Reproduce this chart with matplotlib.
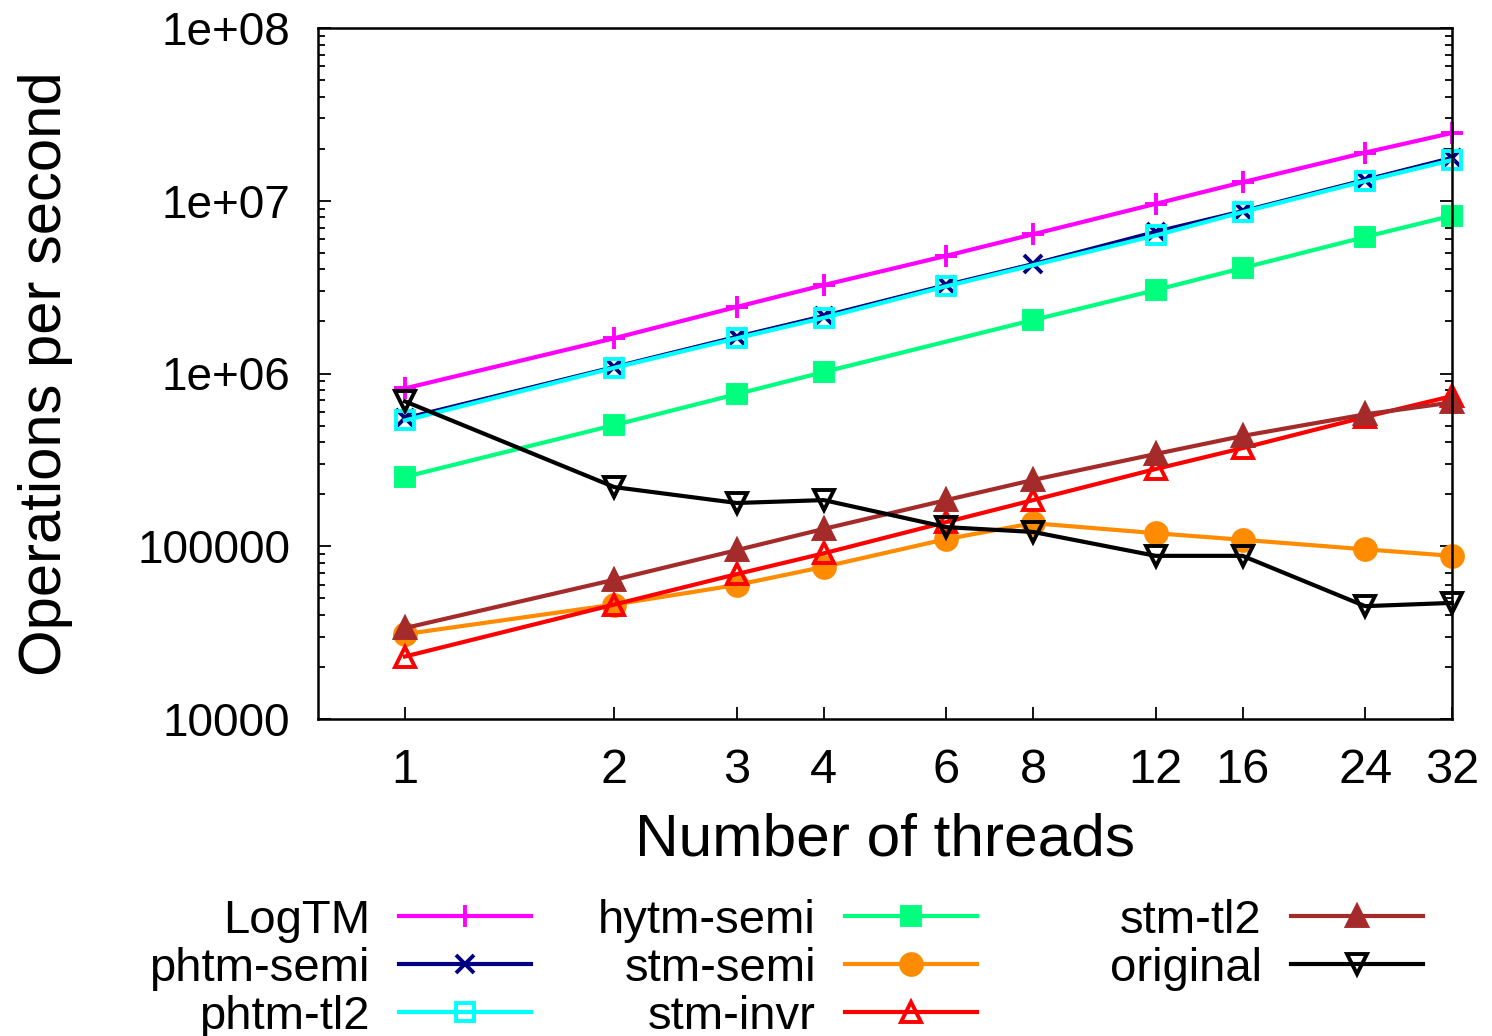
import matplotlib
matplotlib.use("Agg")
import matplotlib.pyplot as plt
import numpy as np

plt.rcParams['font.family'] = ['Liberation Sans', 'DejaVu Sans']

threads = [1, 2, 3, 4, 6, 8, 12, 16, 24, 32]

logtm = [8.2e5, 1.6e6, 2.43e6, 3.25e6, 4.8e6, 6.4e6, 9.6e6, 1.28e7, 1.9e7, 2.47e7]
phtm_semi = [5.5e5, 1.09e6, 1.63e6, 2.15e6, 3.25e6, 4.3e6, 6.6e6, 8.7e6, 1.32e7, 1.77e7]
phtm_tl2 = [5.35e5, 1.08e6, 1.6e6, 2.1e6, 3.2e6, np.nan, 6.3e6, 8.6e6, 1.3e7, 1.72e7]
hytm_semi = [2.52e5, 5.03e5, 7.6e5, 1.02e6, np.nan, 2.04e6, 3.04e6, 4.08e6, 6.17e6, 8.2e6]
stm_semi = [3.1e4, 4.6e4, 5.97e4, 7.6e4, 1.1e5, 1.36e5, 1.19e5, 1.09e5, 9.6e4, 8.8e4]
stm_invr = [2.3e4, 4.6e4, 6.9e4, 9.1e4, 1.38e5, 1.85e5, 2.8e5, 3.7e5, 5.6e5, 7.4e5]
stm_tl2 = [3.36e4, 6.4e4, 9.5e4, 1.26e5, 1.85e5, 2.42e5, 3.42e5, 4.35e5, 5.8e5, 6.8e5]
original = [6.9e5, 2.2e5, 1.78e5, 1.85e5, 1.29e5, 1.21e5, 8.8e4, 8.8e4, 4.5e4, 4.7e4]

series = [
    ("LogTM", logtm, "#ff00ff", "+", True),
    ("phtm-semi", phtm_semi, "#000080", "x", True),
    ("phtm-tl2", phtm_tl2, "#00ffff", "s", False),
    ("hytm-semi", hytm_semi, "#00ff7f", "s", True),
    ("stm-semi", stm_semi, "#ff8c00", "o", True),
    ("stm-invr", stm_invr, "#ff0000", "^", False),
    ("stm-tl2", stm_tl2, "#a52a2a", "^", True),
    ("original", original, "#000000", "v", False),
]

yticks = [1e4, 1e5, 1e6, 1e7, 1e8]
ytick_labels = ["10000", "100000", "1e+06", "1e+07", "1e+08"]

fig = plt.figure(figsize=(14.92, 10.36), dpi=100)
ax = fig.add_axes([318 / 1492, 1 - 719 / 1036, (1452 - 318) / 1492, (719 - 28) / 1036])

handles = []
for name, vals, col, mk, filled in series:
    x = np.array(threads, dtype=float)
    y = np.array(vals, dtype=float)
    ok = ~np.isnan(y)
    ms = {"+": 16, "x": 13, "s": 13, "o": 15, "^": 15, "v": 15}[mk]
    kw = dict(color=col, lw=3, marker=mk, ms=ms, mew=2.8, clip_on=False)
    if not filled and mk != "x":
        kw["markerfacecolor"] = "none"
    line, = ax.plot(x[ok], y[ok], label=name, **kw)
    handles.append(line)

ax.set_xscale("log")
ax.set_yscale("log")
ax.set_xlim(0.75, 32)
ax.set_ylim(1e4, 1e8)

ax.set_xticks(threads)
ax.set_xticklabels([str(t) for t in threads])
ax.xaxis.set_minor_locator(matplotlib.ticker.NullLocator())
ax.set_yticks(yticks)
ax.set_yticklabels(ytick_labels)

ax.tick_params(axis="x", which="major", direction="in", length=9, width=1.3,
               labelsize=35, pad=21, top=False)
ax.tick_params(axis="y", which="major", direction="in", length=9, width=1.3,
               labelsize=33, pad=20, right=True)
ax.tick_params(axis="y", which="minor", direction="in", length=5, width=1.3, right=True)

for s in ax.spines.values():
    s.set_linewidth(1.8)

ax.set_xlabel("Number of threads", fontsize=43.5, labelpad=14)
ax.set_ylabel("Operations per second", fontsize=43, labelpad=46)

# gnuplot-style key: three columns, text right-aligned, sample to the right
cols = [(handles[0:3], 532), (handles[3:6], 978), (handles[6:8], 1424)]
for hs, xr in cols:
    leg = fig.legend(handles=hs, labels=[h.get_label() for h in hs],
                     loc="upper right", bbox_to_anchor=(xr / 1492 - 0.0005, 1 - 899 / 1036),
                     frameon=False, markerfirst=False, fontsize=34,
                     handlelength=2.8, handletextpad=0.62, labelspacing=0.08,
                     borderpad=0, borderaxespad=0)
    for t in leg.get_texts():
        t.set_ha("right")

fig.savefig("out.png", dpi=100)
